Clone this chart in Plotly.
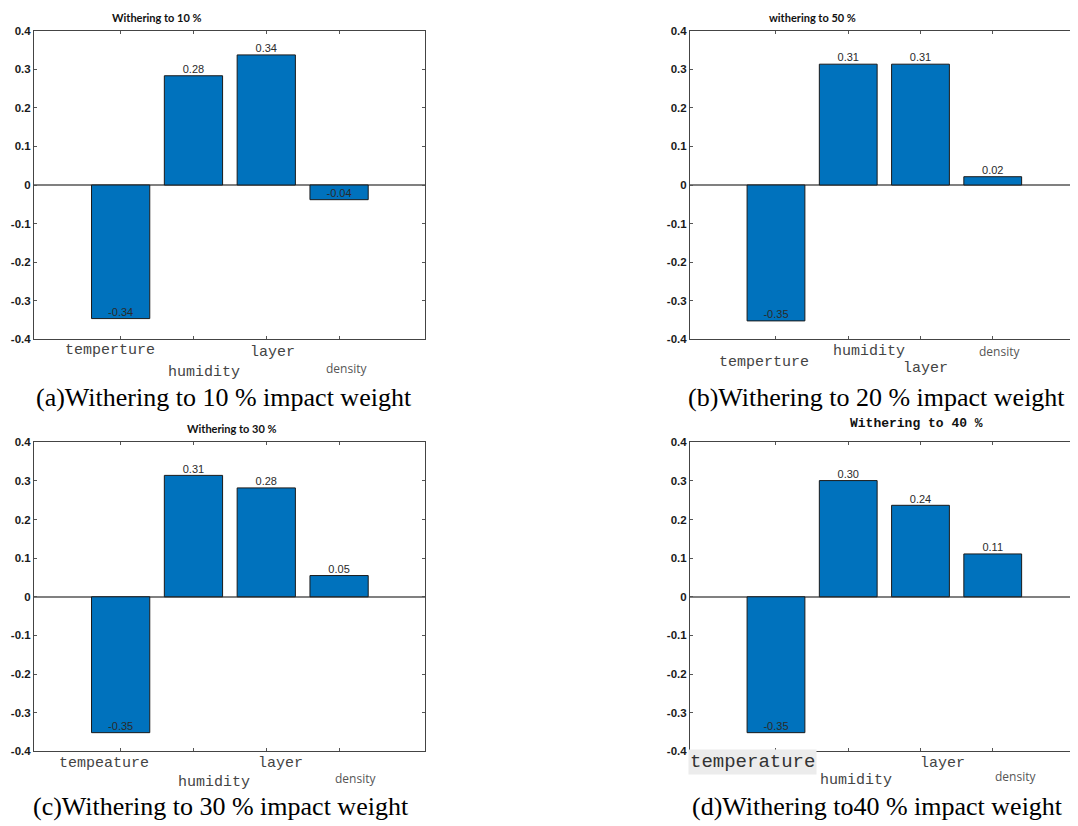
import plotly.graph_objects as go

W, H = 1078, 826

categories = ["temperture", "humidity", "layer", "density"]

values_a = [-0.346, 0.283, 0.337, -0.038]
labels_a = ["-0.34", "0.28", "0.34", "-0.04"]
values_b = [-0.352, 0.313, 0.313, 0.0215]
labels_b = ["-0.35", "0.31", "0.31", "0.02"]
values_c = [-0.352, 0.3145, 0.282, 0.055]
labels_c = ["-0.35", "0.31", "0.28", "0.05"]
values_d = [-0.352, 0.301, 0.237, 0.111]
labels_d = ["-0.35", "0.30", "0.24", "0.11"]

titles = ["Withering to 10 %", "withering to 50 %", "Withering to 30 %", "Withering to 40 %"]
captions = ["(a)Withering to 10 % impact weight", "(b)Withering to 20 % impact weight",
            "(c)Withering to 30 % impact weight", "(d)Withering to40 % impact weight"]

# x tick label texts as shown in each panel
xlabels_a = ["temperture", "humidity", "layer", "density"]
xlabels_b = ["temperture", "humidity", "layer", "density"]
xlabels_c = ["tempeature", "humidity", "layer", "density"]
xlabels_d = ["temperature", "humidity", "layer", "density"]

ytick_vals = [-0.4, -0.3, -0.2, -0.1, 0, 0.1, 0.2, 0.3, 0.4]
ytick_text = ["-0.4", "-0.3", "-0.2", "-0.1", "0", "0.1", "0.2", "0.3", "0.4"]

BAR = "#0072BD"

# screen-pixel -> paper conversion (compensates page offset of the photographed page)
X_OFF = 8.0
Y_OFF = 13.4
Y_SC = 0.986


def px_x(p):
    return (p - X_OFF) / W


def px_y(p):
    return 1 - ((p - Y_OFF) / Y_SC) / H


# panel geometry (target screen pixels)
panels = [
    dict(x0=34, x1=425, y0=30, y1=339),
    dict(x0=690, x1=1078, y0=30, y1=339),
    dict(x0=34, x1=425, y0=442, y1=751),
    dict(x0=690, x1=1078, y0=442, y1=751),
]

fig = go.Figure()
data = [(values_a, labels_a), (values_b, labels_b), (values_c, labels_c), (values_d, labels_d)]

for i, (vals, labs) in enumerate(data):
    n = "" if i == 0 else str(i + 1)
    fig.add_trace(go.Bar(
        x=categories, y=vals, width=0.8,
        marker=dict(color=BAR, line=dict(color="#1a1a1a", width=1)),
        xaxis="x" + n, yaxis="y" + n, showlegend=False, hoverinfo="skip",
    ))
    fig.add_trace(go.Scatter(
        x=categories, y=vals, mode="text", text=labs, textposition="top center",
        textfont=dict(family="Liberation Sans, Arial", size=11, color="#2a2a2a"),
        xaxis="x" + n, yaxis="y" + n, showlegend=False, hoverinfo="skip",
    ))
    p = panels[i]
    fig.layout["xaxis" + n] = dict(
        domain=[max(0, px_x(p["x0"])), min(1, px_x(p["x1"]))], anchor="y" + n,
        type="category", categoryorder="array", categoryarray=categories,
        range=[-1.19, 4.18], showticklabels=False,
        ticks="inside", ticklen=3, tickcolor="#555",
        showline=True, linecolor="#444", linewidth=1, mirror="ticks",
        showgrid=False, zeroline=False, fixedrange=True,
    )
    fig.layout["yaxis" + n] = dict(
        domain=[px_y(p["y1"]), px_y(p["y0"])], anchor="x" + n,
        range=[-0.4, 0.4], tickmode="array", tickvals=ytick_vals, ticktext=ytick_text,
        tickfont=dict(family="Liberation Sans, Arial", size=11.5, color="#1a1a1a", weight="bold"),
        ticks="inside", ticklen=3, tickcolor="#555",
        showline=True, linecolor="#444", linewidth=1, mirror="ticks",
        showgrid=False, zeroline=True, zerolinecolor="#808080", zerolinewidth=1.5,
        fixedrange=True,
    )

ann = []
# panel titles
title_pos = [(157, 17), (812, 17), (232, 428), (916, 423)]
for i, (t, (tx, ty)) in enumerate(zip(titles, title_pos)):
    if i == 3:
        f = dict(family="Liberation Mono, Courier New", size=13, color="#111", weight="bold")
    else:
        f = dict(family="Lato, Open Sans", size=11, color="#111", weight="bold")
    ann.append(dict(text=t, x=px_x(tx), y=px_y(ty), xref="paper", yref="paper",
                    xanchor="center", yanchor="middle", showarrow=False, font=f))

# captions
cap_pos = [(224, 397), (876, 397), (221, 806), (877, 806)]
for c, (cx, cy) in zip(captions, cap_pos):
    ann.append(dict(text=c, x=px_x(cx), y=px_y(cy), xref="paper", yref="paper",
                    xanchor="center", yanchor="middle", showarrow=False,
                    font=dict(family="Liberation Serif, Times New Roman", size=26, color="#000")))

# category labels (positions: category index offset, screen pixel y)
xl_pos = [
    [(-0.15, 350), (1.14, 372), (2.08, 352), (3.10, 368)],
    [(-0.17, 362), (1.29, 351), (2.07, 368), (3.10, 351)],
    [(-0.23, 763), (1.28, 782), (2.20, 763), (3.22, 778)],
    [(-0.32, 762), (1.11, 780), (2.30, 763), (3.32, 776)],
]
xl_texts = [xlabels_a, xlabels_b, xlabels_c, xlabels_d]
for i in range(4):
    n = "" if i == 0 else str(i + 1)
    for j, (lab, (dx, ly)) in enumerate(zip(xl_texts[i], xl_pos[i])):
        bg = None
        if j == 3:
            f = dict(family="Open Sans, Lato", size=12, color="#555")
        elif i == 3 and j == 0:
            f = dict(family="Liberation Mono, Courier New", size=19, color="#333")
            bg = "#ececec"
        else:
            f = dict(family="Liberation Mono, Courier New", size=15, color="#444")
        a = dict(text=lab, x=dx, y=px_y(ly), xref="x" + n, yref="paper",
                 xanchor="center", yanchor="middle", showarrow=False, font=f)
        if bg:
            a["bgcolor"] = bg
        ann.append(a)

fig.update_layout(
    width=W, height=H, margin=dict(l=0, r=0, t=0, b=0),
    paper_bgcolor="white", plot_bgcolor="white",
    annotations=ann, bargap=0.2,
)

fig.write_html("out.html")
